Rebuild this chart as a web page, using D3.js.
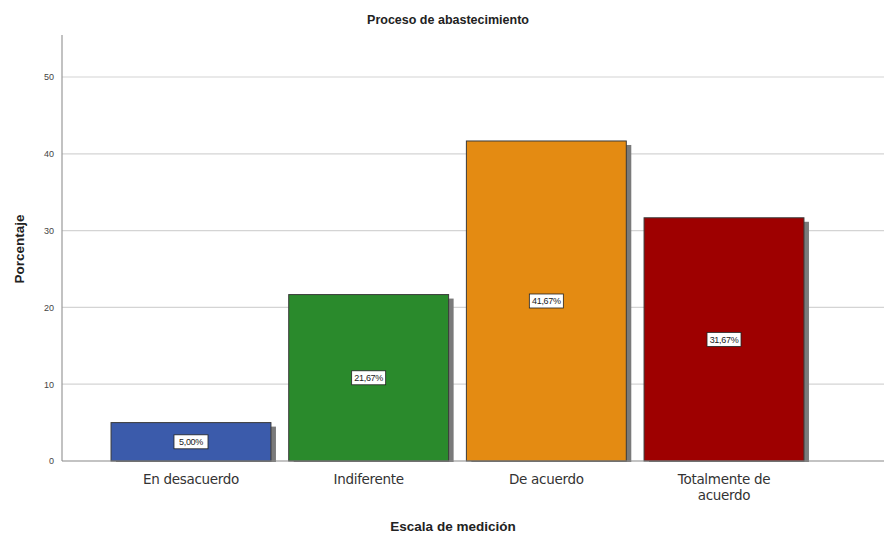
<!DOCTYPE html>
<html><head><meta charset="utf-8">
<script src="https://cdn.jsdelivr.net/npm/d3@7/dist/d3.min.js"></script>
<style>body{margin:0;background:#fff}</style>
</head><body><svg id="c" width="884" height="535"></svg>
<script>
const categories = ["En desacuerdo", "Indiferente", "De acuerdo", "Totalmente de acuerdo"];
const categoryLines = [["En desacuerdo"], ["Indiferente"], ["De acuerdo"], ["Totalmente de", "acuerdo"]];
const values = [5.00, 21.67, 41.67, 31.67];
const valueLabels = ["5,00%", "21,67%", "41,67%", "31,67%"];
const colors = ["#3b5bab", "#2a8a2c", "#e48b12", "#9e0000"];
const yTicks = [0, 10, 20, 30, 40, 50];
const title = "Proceso de abastecimiento";
const xTitle = "Escala de medición";
const yTitle = "Porcentaje";

(function () {
const svg = d3.select("#c");
const mLeft = 62, mRight = 884, mTop = 35, mBottom = 461;
const y = d3.scaleLinear().domain([0, 55.47]).range([mBottom, mTop]);
const x = d3.scaleBand().domain(categories).range([62, 853]).paddingInner(0.1).paddingOuter(0.276);

// gridlines
svg.append("g").selectAll("line").data(yTicks.filter(d => d > 0)).join("line")
  .attr("x1", mLeft).attr("x2", mRight).attr("y1", d => y(d)).attr("y2", d => y(d))
  .attr("stroke", "#d4d4d4").attr("stroke-width", 1.2);

// y axis
const ya = svg.append("g").attr("transform", `translate(${mLeft},0)`)
  .call(d3.axisLeft(y).tickValues(yTicks).tickSize(0).tickPadding(8));
ya.select(".domain").remove();
ya.selectAll("text").attr("font-family", "Liberation Sans, Arial, sans-serif").attr("font-size", 9).attr("fill", "#444");
svg.append("line").attr("x1", mLeft).attr("x2", mLeft).attr("y1", mTop).attr("y2", mBottom).attr("stroke", "#999").attr("stroke-width", 1.2);

// shadows
svg.append("g").selectAll("rect").data(values).join("rect")
  .attr("x", (d, i) => x(categories[i]) + 5).attr("y", d => y(d) + 4)
  .attr("width", x.bandwidth()).attr("height", d => mBottom - y(d) - 3)
  .attr("fill", "#7a7a7a");

// bars
svg.append("g").selectAll("rect").data(values).join("rect")
  .attr("x", (d, i) => x(categories[i])).attr("y", d => y(d))
  .attr("width", x.bandwidth()).attr("height", d => mBottom - y(d))
  .attr("fill", (d, i) => colors[i]).attr("stroke", "#3a3a3a").attr("stroke-width", 1);

// x axis line
svg.append("line").attr("x1", mLeft).attr("x2", mRight).attr("y1", mBottom).attr("y2", mBottom).attr("stroke", "#888").attr("stroke-width", 1.2);

// value labels
const lg = svg.append("g").selectAll("g").data(values).join("g")
  .attr("transform", (d, i) => `translate(${x(categories[i]) + x.bandwidth() / 2},${(y(d) + mBottom) / 2})`);
lg.append("rect").attr("x", -17).attr("y", -7).attr("width", 34).attr("height", 14)
  .attr("fill", "#fff").attr("stroke", "#222").attr("stroke-width", 0.8);
lg.append("text").attr("text-anchor", "middle").attr("dy", "0.35em")
  .attr("font-family", "Liberation Sans, Arial, sans-serif").attr("font-size", 9).attr("letter-spacing", -0.3)
  .attr("fill", "#222").text((d, i) => valueLabels[i]);

// x category labels
const xl = svg.append("g").selectAll("text").data(categories).join("text")
  .attr("x", d => x(d) + x.bandwidth() / 2).attr("y", 484)
  .attr("text-anchor", "middle").attr("font-family", "DejaVu Sans, sans-serif").attr("font-size", 13.5)
  .attr("fill", "#333").attr("letter-spacing", -0.3);
xl.each(function(d, i) {
  categoryLines[i].forEach((t, j) => {
    d3.select(this).append("tspan").attr("x", x(d) + x.bandwidth() / 2).attr("dy", j === 0 ? 0 : 16).text(t);
  });
});

// titles
svg.append("text").attr("x", 448).attr("y", 24).attr("text-anchor", "middle")
  .attr("font-family", "Liberation Sans, Arial, sans-serif").attr("font-weight", "bold").attr("font-size", 12.5).attr("fill", "#222").text(title);
svg.append("text").attr("x", 453).attr("y", 531).attr("text-anchor", "middle")
  .attr("font-family", "Liberation Sans, Arial, sans-serif").attr("font-weight", "bold").attr("font-size", 13.5).attr("fill", "#222").text(xTitle);
svg.append("text").attr("transform", "translate(24,249) rotate(-90)").attr("text-anchor", "middle")
  .attr("font-family", "Liberation Sans, Arial, sans-serif").attr("font-weight", "bold").attr("font-size", 13.5).attr("fill", "#222").text(yTitle);
})();
</script></body></html>
